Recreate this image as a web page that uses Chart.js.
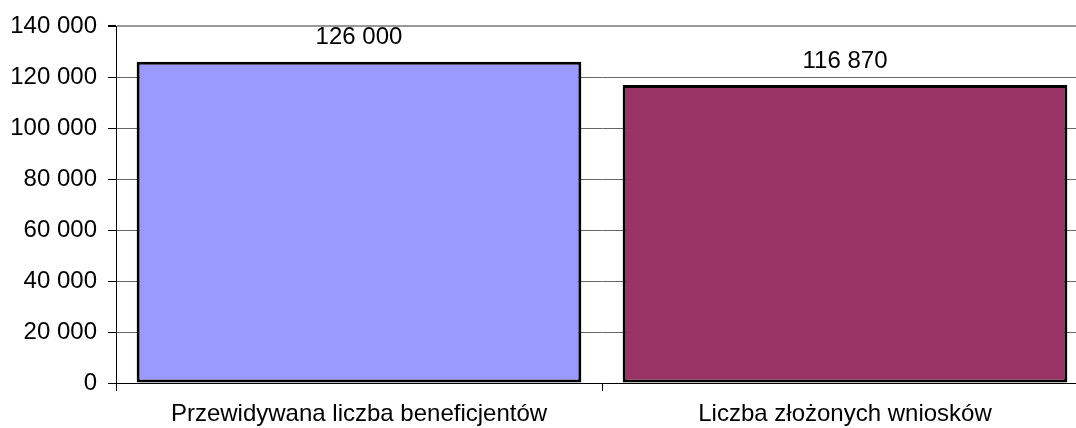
<!DOCTYPE html>
<html>
<head>
<meta charset="utf-8">
<script src="https://cdn.jsdelivr.net/npm/chart.js@4/dist/chart.umd.min.js"></script>
<style>
  html, body { margin:0; padding:0; background:#fff; overflow:hidden; }
  #wrap { width:1076px; height:428px; overflow:hidden; }
</style>
</head>
<body>
<div id="wrap"><canvas id="chart" width="1088" height="428"></canvas></div>
<script>
const categories = ["Przewidywana liczba beneficjentów", "Liczba złożonych wniosków"];
const values = [126000, 116870];
const barColors = ["#9999FF", "#993366"];
const yTicks = [0, 20000, 40000, 60000, 80000, 100000, 120000, 140000];

// Format "126 000"
const fmt = n => String(n).replace(/\B(?=(\d{3})+(?!\d))/g, " ");
const FONT = "'Liberation Sans', Arial, sans-serif";

const valueLabels = {
  id: "valueLabels",
  afterDatasetsDraw(chart) {
    const ctx = chart.ctx;
    const meta = chart.getDatasetMeta(0);
    ctx.save();
    ctx.font = "24px " + FONT;
    ctx.fillStyle = "#000";
    ctx.textAlign = "center";
    ctx.textBaseline = "middle";
    meta.data.forEach((bar, i) => {
      ctx.fillText(fmt(values[i]), bar.x, bar.y - 24);
    });
    ctx.restore();
  }
};

new Chart(document.getElementById("chart"), {
  type: "bar",
  data: {
    labels: categories,
    datasets: [{
      data: values,
      backgroundColor: barColors,
      borderColor: "#000",
      borderWidth: 3,
      borderSkipped: false,
      barPercentage: 1,
      categoryPercentage: 0.915
    }]
  },
  options: {
    responsive: false,
    animation: false,
    layout: { padding: { top: 26, right: 0, left: 0, bottom: 0 } },
    plugins: { legend: { display: false }, tooltip: { enabled: false } },
    scales: {
      x: {
        grid: { drawOnChartArea: false, offset: true, tickLength: 8, color: "#000" },
        border: { color: "#000", width: 1 },
        ticks: { font: { size: 24, family: FONT }, color: "#000", padding: 9, maxRotation: 0 },
        afterFit: s => { s.height = 45; }
      },
      y: {
        min: 0, max: 140000,
        afterBuildTicks: s => { s.ticks = yTicks.map(v => ({ value: v })); },
        grid: {
          color: c => c.tick && c.tick.value === 140000 ? "#999" : "#666",
          lineWidth: c => c.tick && c.tick.value === 140000 ? 2 : 1,
          tickLength: 8,
          tickColor: "#000"
        },
        border: { color: "#000", width: 1 },
        ticks: {
          font: { size: 24, family: FONT }, color: "#000", padding: 11,
          callback: v => fmt(v)
        },
        afterFit: s => { s.width = 116; }
      }
    }
  },
  plugins: [valueLabels]
});
</script>
</body>
</html>
